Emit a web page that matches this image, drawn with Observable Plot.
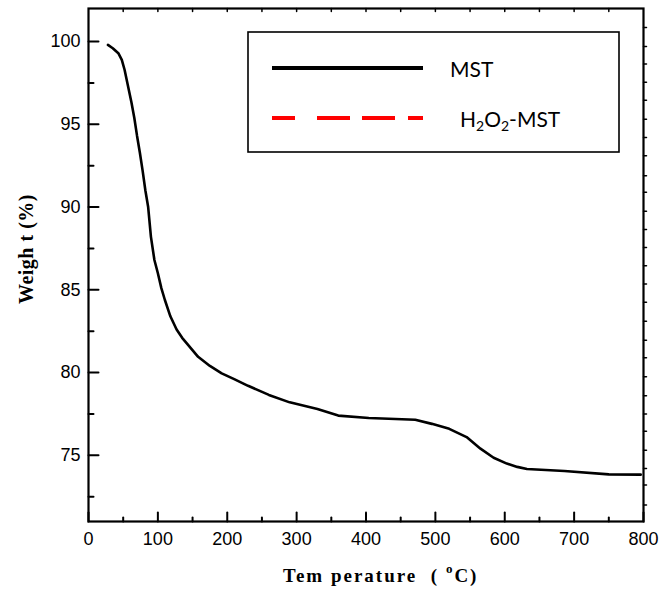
<!DOCTYPE html>
<html>
<head>
<meta charset="utf-8">
<script src="https://cdn.jsdelivr.net/npm/d3@7"></script>
<script src="https://cdn.jsdelivr.net/npm/@observablehq/plot@0.6"></script>
<style>
  html, body { margin: 0; padding: 0; background: #fff; }
  #chart svg { display: block; }
</style>
</head>
<body>
<div id="chart"></div>
<script>
// ---- data ----
const temps   = [28, 35, 43, 48, 52, 57, 62, 66, 70, 74, 78, 82, 86, 90, 95, 100, 105, 110, 118, 127, 135, 145, 158, 175, 192, 210, 230, 260, 290, 330, 360, 404, 471, 495, 520, 545, 565, 584, 603, 618, 632, 686, 750, 796];
const weights = [99.8, 99.6, 99.3, 98.9, 98.3, 97.3, 96.3, 95.4, 94.3, 93.3, 92.2, 91.0, 90.0, 88.2, 86.8, 86.0, 85.1, 84.4, 83.4, 82.6, 82.1, 81.6, 80.95, 80.4, 79.95, 79.6, 79.2, 78.65, 78.2, 77.8, 77.4, 77.25, 77.15, 76.9, 76.6, 76.1, 75.4, 74.85, 74.5, 74.3, 74.17, 74.05, 73.85, 73.83];

const seriesNames = ["MST", "H2O2-MST"];

const xMajor = [0, 100, 200, 300, 400, 500, 600, 700, 800];
const xMinor = [50, 150, 250, 350, 450, 550, 650, 750];
const yMajor = [75, 80, 85, 90, 95, 100];
const yMinor = [72.5, 77.5, 82.5, 87.5, 92.5, 97.5];
const topTicks = [50, 100, 150, 200, 250, 300, 350, 400, 450, 500, 550, 600, 650, 700, 750];
const rightTicks = [72.0, 73.2, 74.2, 75.3, 76.45, 77.5, 78.6, 79.75, 80.9, 81.95, 83.1, 84.25, 85.35, 86.45, 87.55, 88.65, 89.75, 90.9, 91.9, 93.1, 94.2, 95.3, 96.45, 97.55, 98.65, 99.7, 100.85];

const xDomain = [0, 800];
const yDomain = [71, 102];

const data = temps.map((t, i) => ({t, w: weights[i]}));

const tickShape = {draw(ctx, l) { ctx.moveTo(0, 0); ctx.lineTo(0, -l); }};
const tickStyle = {anchor: "start", shape: tickShape, stroke: "black", strokeWidth: 2};

const svg = Plot.plot({
  width: 660,
  height: 590,
  marginLeft: 88,
  marginRight: 17,
  marginTop: 8,
  marginBottom: 69,
  style: {fontFamily: "'Liberation Sans', Arial, sans-serif", fontSize: "18px", background: "white", color: "black"},
  x: {domain: xDomain},
  y: {domain: yDomain},
  marks: [
    Plot.line(data, {x: "t", y: "w", stroke: "black", strokeWidth: 2.6, strokeLinejoin: "miter"}),
    // bottom axis ticks (inward)
    Plot.vector(xMajor, {x: d => d, y: () => yDomain[0], length: 9, rotate: 0, ...tickStyle}),
    Plot.vector(xMinor, {x: d => d, y: () => yDomain[0], length: 4, rotate: 0, ...tickStyle}),
    // left axis ticks (inward)
    Plot.vector(yMajor, {x: () => xDomain[0], y: d => d, length: 10, rotate: 90, ...tickStyle}),
    Plot.vector(yMinor, {x: () => xDomain[0], y: d => d, length: 5, rotate: 90, ...tickStyle}),
    // top axis small ticks (inward)
    Plot.vector(topTicks, {x: d => d, y: () => yDomain[1], length: 3, rotate: 180, ...tickStyle, strokeWidth: 1.5}),
    // right axis small ticks (outward)
    Plot.vector(rightTicks, {x: () => xDomain[1], y: d => d, length: 3, rotate: 90, ...tickStyle, strokeWidth: 1.5}),
    Plot.frame({stroke: "black", strokeWidth: 2.2}),
    Plot.axisX(xMajor, {tickSize: 0, tickPadding: 11, label: null, fontSize: 18}),
    Plot.axisY(yMajor, {tickSize: 0, tickPadding: 8, label: null, fontSize: 18})
  ]
});

document.getElementById("chart").appendChild(svg);

const s = d3.select(svg);

// axis titles
const xt = s.append("text")
  .attr("x", 283).attr("y", 582)
  .attr("text-anchor", "start")
  .attr("font-family", "'Liberation Serif', 'Times New Roman', serif")
  .attr("font-weight", "bold").attr("font-size", 19)
  .attr("letter-spacing", "2px")
  .attr("fill", "black");
xt.append("tspan").text("Tem perature  ( ");
xt.append("tspan").attr("font-size", 13).attr("dy", -9).text("o");
xt.append("tspan").attr("dy", 9).text("C)");

s.append("text")
  .attr("transform", "translate(33,249) rotate(-90)")
  .attr("text-anchor", "middle")
  .attr("font-family", "'Liberation Serif', 'Times New Roman', serif")
  .attr("font-weight", "bold").attr("font-size", 20)
  .attr("letter-spacing", "0.5px")
  .attr("fill", "black")
  .text("Weigh t (%)");

// legend
const lg = s.append("g").attr("text-anchor", "start");
lg.append("rect").attr("x", 248).attr("y", 32).attr("width", 371).attr("height", 120)
  .attr("fill", "white").attr("stroke", "black").attr("stroke-width", 1.6);
lg.append("line").attr("x1", 272).attr("x2", 423).attr("y1", 68).attr("y2", 68)
  .attr("stroke", "black").attr("stroke-width", 4);
lg.append("line").attr("x1", 272).attr("x2", 423).attr("y1", 118).attr("y2", 118)
  .attr("stroke", "#ff0000").attr("stroke-width", 4)
  .attr("stroke-dasharray", "23 22 33 12 33 13 15");
lg.append("text").attr("x", 450).attr("y", 77)
  .attr("text-anchor", "start")
  .attr("font-family", "Lato, 'Open Sans', sans-serif").attr("font-size", 21)
  .attr("fill", "black").text(seriesNames[0]);
const t2 = lg.append("text").attr("x", 460).attr("y", 127)
  .attr("text-anchor", "start")
  .attr("font-family", "Lato, 'Open Sans', sans-serif").attr("font-size", 21)
  .attr("fill", "black");
t2.append("tspan").text("H");
t2.append("tspan").attr("font-size", 14).attr("dy", 4).text("2");
t2.append("tspan").attr("dy", -4).text("O");
t2.append("tspan").attr("font-size", 14).attr("dy", 4).text("2");
t2.append("tspan").attr("dy", -4).text("-MST");
</script>
</body>
</html>
